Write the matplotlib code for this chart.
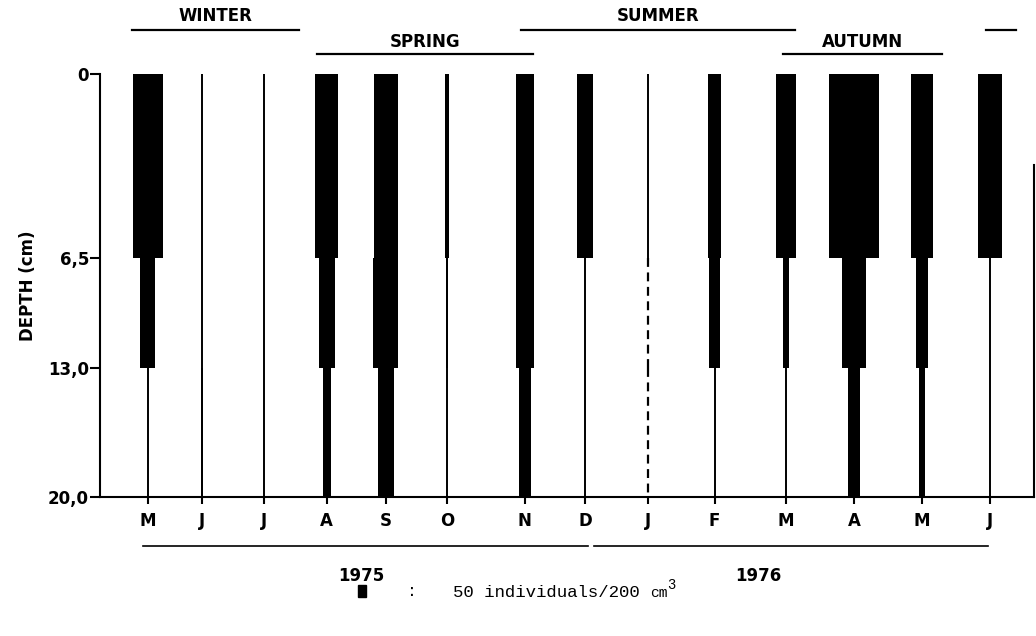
import numpy as np
import matplotlib
matplotlib.use("Agg")
import matplotlib.pyplot as plt
from matplotlib.patches import Rectangle

# sampling months (1975-1976) and sampling time in months from the first sample
months = ["M", "J", "J", "A", "S", "O", "N", "D", "J", "F", "M", "A", "M", "J"]
sample_time = [0, 0.83, 1.79, 2.76, 3.67, 4.62, 5.82, 6.75, 7.72, 8.75, 9.85, 10.90, 11.95, 13.0]

# depth layers (cm)
depth_ticks = [0, 6.5, 13.0, 20.0]
depth_labels = ["0", "6,5", "13,0", "20,0"]

# individuals / 200 cm3 in each layer (nan = not sampled)
nan = np.nan
layer_top = [200, 0, 0, 150, 160, 30, 125, 105, 0, 85, 135, 335, 145, 160]
layer_mid = [100, 0, 0, 105, 165, 10, 125, 0, nan, 75, 40, 160, 80, 5]
layer_bot = [0, 15, 0, 55, 105, 0, 75, 0, nan, 0, 0, 80, 40, 0]

seasons = ["WINTER", "SPRING", "SUMMER", "AUTUMN", ""]
season_span = [(-0.25, 2.33), (2.61, 5.94), (5.76, 9.99), (9.80, 12.26), (12.94, 13.40)]
season_row = [0, 1, 0, 1, 0]

years = ["1975", "1976"]
year_span = [(-0.08, 6.79), (6.89, 12.97)]
year_label_x = [3.3, 9.42]

key_value = 50  # individuals per legend square

# layout
px_month = 64.77
ind_to_width = 0.15 / px_month
layer_px = [0, 184, 294, 423]

bold = dict(family="DejaVu Sans", fontweight="bold", fontsize=12)

fig = plt.figure(figsize=(10.36, 6.36), dpi=100)
ax = fig.add_axes([100 / 1036, 1 - 497 / 636, 934 / 1036, 423 / 636])


def fwd(d):
    return np.interp(d, depth_ticks, layer_px)


def inv(p):
    return np.interp(p, layer_px, depth_ticks)


ax.set_yscale("function", functions=(fwd, inv))
ax.set_ylim(20, 0)
ax.set_xlim(-0.74, 13.68)

layers = [layer_top, layer_mid, layer_bot]
for i, t in enumerate(sample_time):
    for j, vals in enumerate(layers):
        d0, d1 = depth_ticks[j], depth_ticks[j + 1]
        v = vals[i]
        if np.isnan(v):
            ax.vlines(t, d0, d1, color="black", lw=1.6, linestyles=(0, (4, 2.5)))
            continue
        ax.vlines(t, d0, d1, color="black", lw=1.4)
        if v > 0:
            ax.bar(t, d1 - d0, bottom=d0, width=v * ind_to_width,
                   color="black", edgecolor="none")

ax.set_xticks(sample_time)
ax.set_xticklabels(months, **bold)
ax.set_yticks(depth_ticks)
ax.set_yticklabels(depth_labels, **bold)
ax.tick_params(axis="x", length=5, width=1.5, pad=6)
ax.tick_params(axis="y", length=7, width=1.5, pad=1)
ax.yaxis.set_minor_locator(matplotlib.ticker.NullLocator())
ax.set_ylabel("DEPTH (cm)", labelpad=8, **bold)

ax.spines["top"].set_visible(False)
ax.spines["right"].set_bounds(3.2, 20)
for s in ["left", "bottom", "right"]:
    ax.spines[s].set_linewidth(1.5)

trans = ax.get_xaxis_transform()
row_line_y = [1.104, 1.048]
row_text_y = [1.137, 1.075]
for name, (a, b), r in zip(seasons, season_span, season_row):
    ax.plot([a, b], [row_line_y[r]] * 2, color="black", lw=1.6,
            transform=trans, clip_on=False)
    if name:
        ax.text((a + b) / 2, row_text_y[r], name, transform=trans,
                ha="center", va="center", **bold)

for name, (a, b), lx in zip(years, year_span, year_label_x):
    ax.plot([a, b], [-0.115] * 2, color="black", lw=1.2,
            transform=trans, clip_on=False)
    ax.text(lx, -0.187, name, transform=trans, ha="center", va="center", **bold)

# legend key
fig.patches.append(Rectangle((358 / 1036, 1 - 597 / 636), 8 / 1036, 12 / 636,
                             transform=fig.transFigure, color="black"))
fig.text(412 / 1036, 1 - 592 / 636, ":", family="Liberation Mono",
         fontsize=12, ha="center", va="center")
t1 = fig.text(453 / 1036, 1 - 597 / 636, f"{key_value} individuals/200 ",
              family="Liberation Mono", fontsize=12.5, ha="left", va="baseline")
t2 = ax.annotate("cm", xy=(1, 0), xycoords=t1, family="Liberation Mono",
                 fontsize=10.5, ha="left", va="bottom")
ax.annotate("3", xy=(1, 0.55), xycoords=t2, family="Liberation Mono",
            fontsize=10, ha="left", va="bottom")

fig.savefig("out.png", dpi=100)
